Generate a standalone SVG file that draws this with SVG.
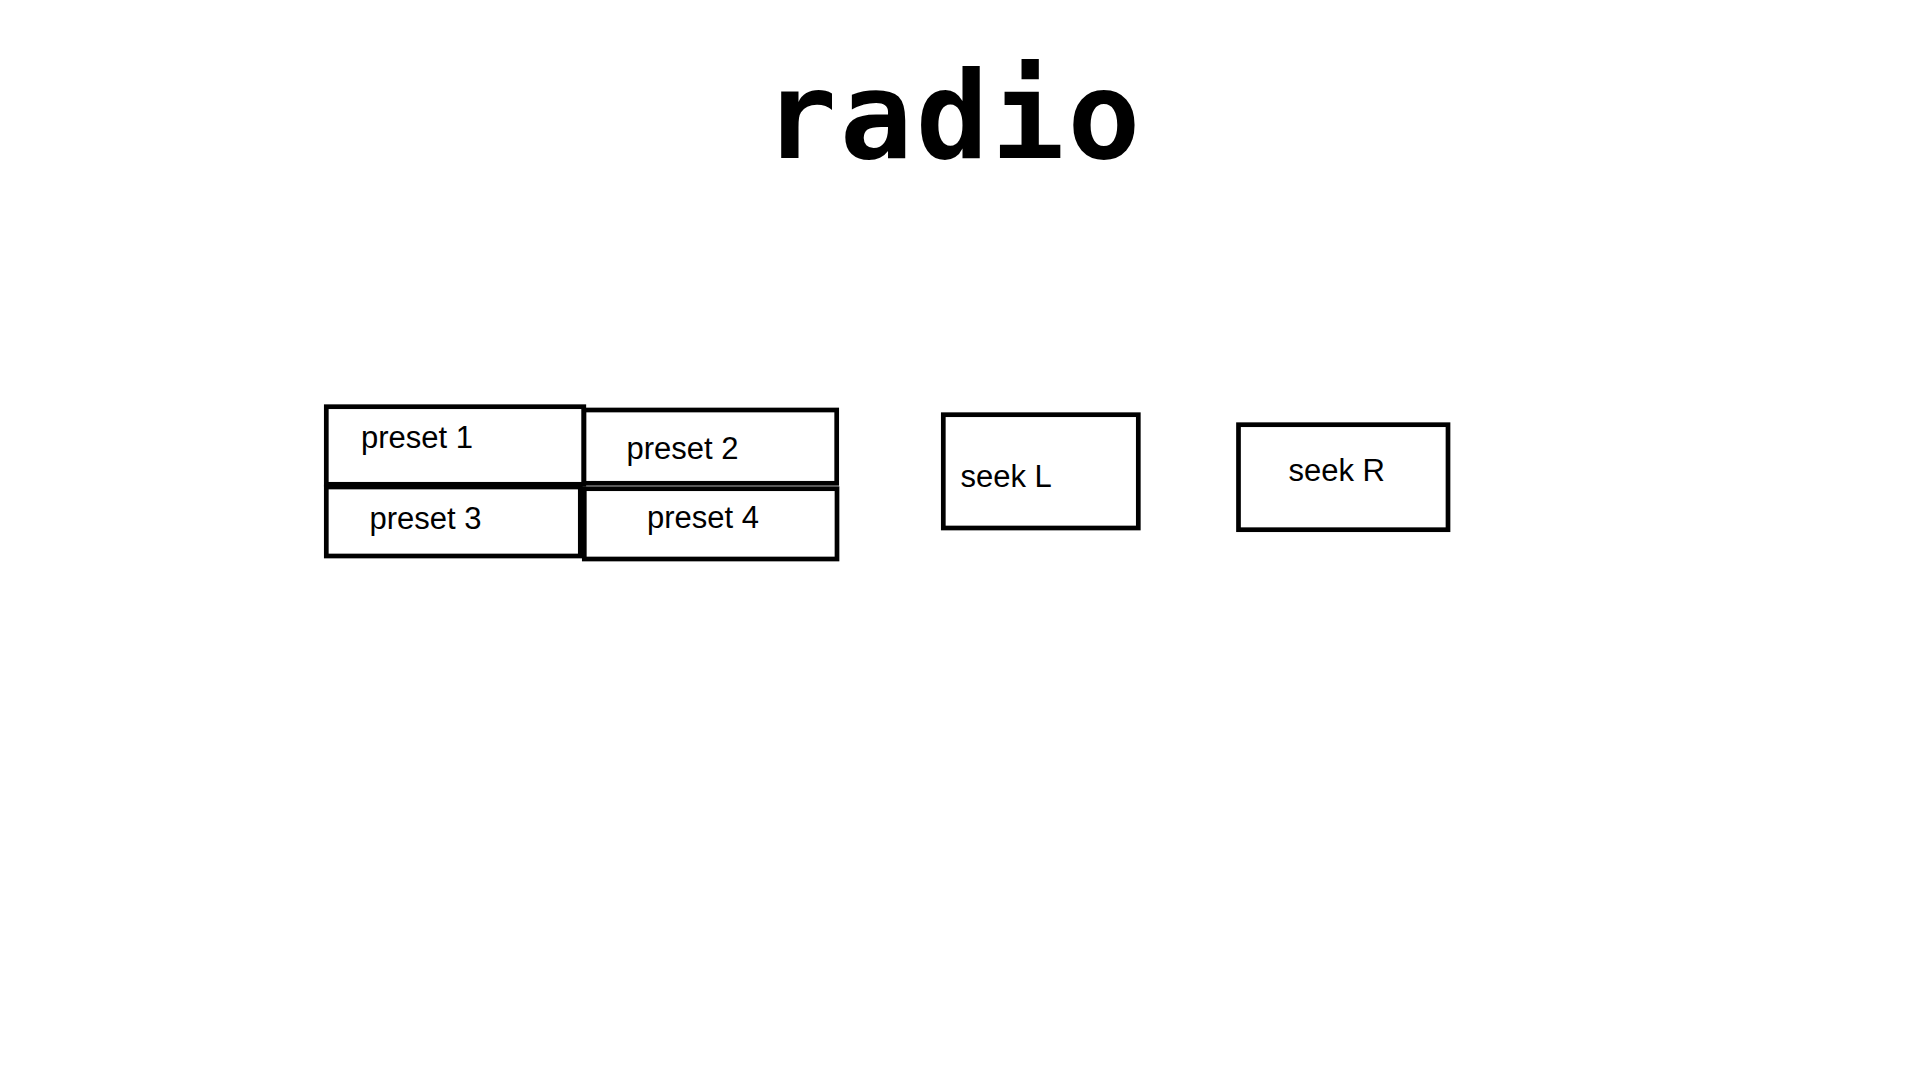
<svg xmlns="http://www.w3.org/2000/svg" width="1920" height="1080" viewBox="0 0 1920 1080">
<style>
.box{fill:#fff;stroke:#000;stroke-width:4.7}
.lbl{font-family:"Liberation Sans",Arial,sans-serif;font-size:31px;fill:#000}
.title{font-family:"DejaVu Sans Mono",monospace;font-weight:bold;font-size:121px;letter-spacing:3px;fill:#000}
</style>
<rect width="1920" height="1080" fill="#fff"/>
<text id="title" class="title" x="764" y="158">radio</text>
<g id="preset1"><rect class="box" x="326.3" y="406.7" width="257.5" height="77.6"/><text class="lbl" x="361" y="447.7">preset 1</text></g>
<g id="preset2"><rect class="box" x="584" y="410" width="252.7" height="73.3"/><text class="lbl" x="626.5" y="459">preset 2</text></g>
<g id="preset3"><rect class="box" x="326.3" y="487" width="254" height="69"/><text class="lbl" x="369.5" y="529">preset 3</text></g>
<g id="preset4"><rect class="box" x="584.3" y="488.7" width="252.7" height="70.3"/><text class="lbl" x="647" y="528.3">preset 4</text></g>
<g id="seekL"><rect class="box" x="943.3" y="414.7" width="195" height="113.3"/><text class="lbl" x="960.5" y="486.7">seek L</text></g>
<g id="seekR"><rect class="box" x="1238.5" y="424.7" width="209.5" height="105"/><text class="lbl" x="1288.5" y="481">seek R</text></g>
<g id="connectors"/>
</svg>
